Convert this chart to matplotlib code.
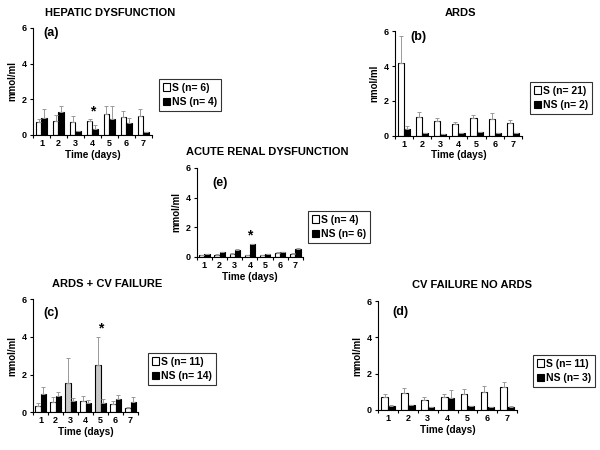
import numpy as np
import matplotlib
matplotlib.use("Agg")
import matplotlib.pyplot as plt
from matplotlib.patches import Patch

plt.rcParams['font.family'] = ['Liberation Sans', 'DejaVu Sans']
plt.rcParams['font.weight'] = 'bold'

days = [1, 2, 3, 4, 5, 6, 7]

# (a) hepatic dysfunction
a_s = [0.75, 0.8, 0.75, 0.8, 1.15, 1.0, 1.05]
a_s_err = [0.15, 0.3, 0.3, 0.1, 0.5, 0.35, 0.4]
a_ns = [0.95, 1.3, 0.25, 0.35, 0.9, 0.65, 0.15]
a_ns_err = [0.5, 0.35, 0.0, 0.2, 0.75, 0.3, 0.0]

# (b) ARDS
b_s = [4.2, 1.1, 0.85, 0.7, 1.0, 0.95, 0.75]
b_s_err = [1.5, 0.25, 0.2, 0.1, 0.2, 0.35, 0.15]
b_ns = [0.4, 0.15, 0.1, 0.15, 0.2, 0.15, 0.15]
b_ns_err = [0.15, 0.0, 0.0, 0.0, 0.0, 0.0, 0.0]

# (e) acute renal dysfunction
e_s = [0.1, 0.15, 0.2, 0.1, 0.1, 0.25, 0.2]
e_s_err = [0.03, 0.03, 0.05, 0.03, 0.03, 0.08, 0.05]
e_ns = [0.2, 0.3, 0.5, 0.85, 0.2, 0.3, 0.55]
e_ns_err = [0.03, 0.03, 0.05, 0.05, 0.03, 0.05, 0.05]

# (c) ARDS + CV failure
c_s = [0.35, 0.55, 1.55, 0.6, 2.5, 0.45, 0.2]
c_s_err = [0.15, 0.25, 1.35, 0.25, 1.5, 0.15, 0.05]
c_ns = [0.95, 0.85, 0.6, 0.5, 0.5, 0.7, 0.55]
c_ns_err = [0.4, 0.2, 0.15, 0.15, 0.2, 0.2, 0.25]
c_gray = [False, False, True, False, True, False, False]

# (d) CV failure no ARDS
d_s = [0.7, 0.95, 0.55, 0.7, 0.9, 1.0, 1.25]
d_s_err = [0.2, 0.25, 0.15, 0.2, 0.25, 0.3, 0.3]
d_ns = [0.2, 0.25, 0.15, 0.65, 0.2, 0.15, 0.15]
d_ns_err = [0.05, 0.05, 0.0, 0.45, 0.0, 0.0, 0.05]

fig = plt.figure(figsize=(6, 4.5), dpi=100)


def panel(rect, title, title_xy, tag, tag_xy, s, s_err, ns, ns_err, ylabel,
          leg, leg_xy, star=None, gray=None):
    ax = fig.add_axes(rect)
    x = np.array(days)
    w = 0.34
    s_colors = ['white'] * 7
    if gray:
        s_colors = ['#c8c8c8' if g else 'white' for g in gray]
    ax.bar(x - w / 2, s, w, color=s_colors, edgecolor='black', linewidth=0.8,
           yerr=[np.zeros(7), s_err], ecolor='#999999',
           error_kw=dict(elinewidth=0.7, capsize=1.5, capthick=0.7))
    ax.bar(x + w / 2, ns, w, color='black', edgecolor='black', linewidth=0.8,
           yerr=[np.zeros(7), ns_err], ecolor='#999999',
           error_kw=dict(elinewidth=0.7, capsize=1.5, capthick=0.7))
    ax.set_xlim(0.5, 7.5)
    ax.set_ylim(0, 6)
    ax.set_yticks([0, 2, 4, 6])
    ax.set_xticks(days)
    ax.set_xticks(np.arange(0.5, 8, 1), minor=True)
    ax.tick_params(axis='x', which='major', length=0, labelsize=6.5, pad=3)
    ax.tick_params(axis='x', which='minor', length=2.5, width=0.8)
    ax.tick_params(axis='y', length=2.5, width=0.8, labelsize=6.5, pad=2)
    for sp in ['top', 'right']:
        ax.spines[sp].set_visible(False)
    for sp in ['left', 'bottom']:
        ax.spines[sp].set_linewidth(0.8)
    ax.set_xlabel('Time (days)', fontsize=7.2, fontweight='bold', labelpad=1)
    ax.set_ylabel(ylabel, fontsize=7, fontweight='bold', labelpad=3)
    fig.text(title_xy[0] / 600, 1 - title_xy[1] / 450, title, fontsize=8,
             fontweight='bold', ha='center', va='center')
    ax.text(tag_xy[0], tag_xy[1], tag, transform=ax.transAxes, fontsize=9,
            fontweight='bold', va='center', ha='left')
    if star is not None:
        top = max(s[star - 1] + s_err[star - 1], ns[star - 1] + ns_err[star - 1])
        ax.text(star, top + 0.05, '*', ha='center', va='bottom', fontsize=10,
                fontweight='bold')
    handles = [Patch(facecolor='white', edgecolor='black', linewidth=0.8),
               Patch(facecolor='black', edgecolor='black', linewidth=0.8)]
    lg = fig.legend(handles, leg, loc='upper left',
                    bbox_to_anchor=leg_xy, bbox_transform=fig.transFigure,
                    fontsize=7.5, frameon=True, fancybox=False,
                    handlelength=0.7, handleheight=0.7, handletextpad=0.2,
                    borderpad=0.35, labelspacing=0.45, borderaxespad=0)
    lg.get_frame().set_edgecolor('black')
    lg.get_frame().set_linewidth(0.8)
    for t in lg.get_texts():
        t.set_fontweight('bold')
    return ax


panel([0.055, 0.70, 0.198, 0.238], 'HEPATIC DYSFUNCTION', (110, 13),
      '(a)', (0.09, 0.95),
      a_s, a_s_err, a_ns, a_ns_err, 'mmol/ml', ['S (n= 6)', 'NS (n= 4)'],
      (159 / 600, 1 - 79 / 450), star=4)
panel([0.658, 0.698, 0.212, 0.233], 'ARDS', (460, 13), '(b)', (0.12, 0.94),
      b_s, b_s_err, b_ns, b_ns_err, 'nmol/ml', ['S (n= 21)', 'NS (n= 2)'],
      (530 / 600, 1 - 82 / 450))
panel([0.328, 0.429, 0.177, 0.198], 'ACUTE RENAL DYSFUNCTION', (267, 152),
      '(e)', (0.15, 0.83),
      e_s, e_s_err, e_ns, e_ns_err, 'mmol/ml', ['S (n= 4)', 'NS (n= 6)'],
      (308 / 600, 1 - 211 / 450), star=4)
panel([0.055, 0.084, 0.175, 0.251], 'ARDS + CV FAILURE', (107, 284),
      '(c)', (0.1, 0.88),
      c_s, c_s_err, c_ns, c_ns_err, 'mmol/ml', ['S (n= 11)', 'NS (n= 14)'],
      (148 / 600, 1 - 353 / 450), star=5, gray=c_gray)
panel([0.63, 0.089, 0.232, 0.242], 'CV FAILURE NO ARDS', (472, 285),
      '(d)', (0.1, 0.9),
      d_s, d_s_err, d_ns, d_ns_err, 'mmol/ml', ['S (n= 11)', 'NS (n= 3)'],
      (533 / 600, 1 - 355 / 450))

fig.savefig('out.png', dpi=100, facecolor='white')
